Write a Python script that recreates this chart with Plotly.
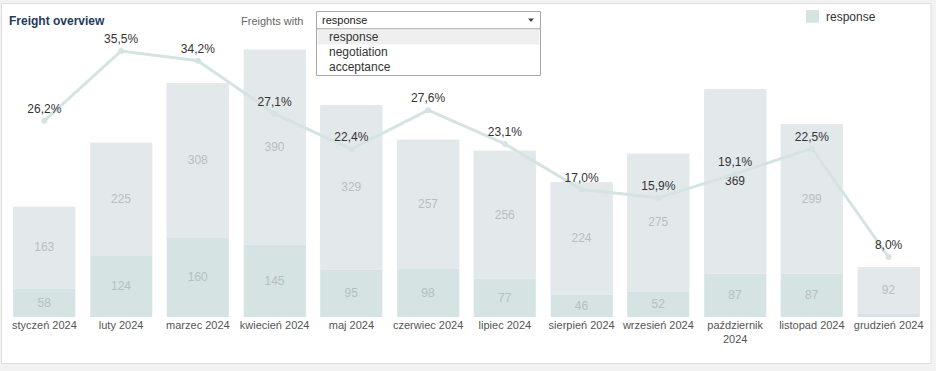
import plotly.graph_objects as go

# ---- data ----
months = ["styczeń 2024", "luty 2024", "marzec 2024", "kwiecień 2024", "maj 2024",
          "czerwiec 2024", "lipiec 2024", "sierpień 2024", "wrzesień 2024",
          "październik<br>2024", "listopad 2024", "grudzień 2024"]
response = [58, 124, 160, 145, 95, 98, 77, 46, 52, 87, 87, 8]
other = [163, 225, 308, 390, 329, 257, 256, 224, 275, 369, 299, 92]
response_pct = [26.2, 35.5, 34.2, 27.1, 22.4, 27.6, 23.1, 17.0, 15.9, 19.1, 22.5, 8.0]
dropdown_options = ["response", "negotiation", "acceptance"]
selected_option = "response"

# ---- styling ----
FONT = "Liberation Sans, Arial, sans-serif"
TEAL = "#d5e3e3"
GRAY = "#e3e8eb"
BLUR = "#b9bec1"
W, H = 936, 371
ML, MR, MT, MB = 6, 9, 27, 54
PW, PH = W - ML - MR, H - MT - MB


def px(x):
    return (x - ML) / PW


def py(y):
    return (H - MB - y) / PH


other_colors = ["#333333" if m.startswith("październik") else BLUR for m in months]

fig = go.Figure()
fig.add_trace(go.Bar(
    x=months, y=response, name="response", marker_color=TEAL,
    text=response, textposition="inside", insidetextanchor="middle",
    textangle=0, textfont=dict(color=BLUR, size=12, family=FONT),
    hoverinfo="x+y", showlegend=False))
fig.add_trace(go.Bar(
    x=months, y=other, name="other", marker_color=GRAY,
    text=other, textposition="inside", insidetextanchor="middle",
    textangle=0, textfont=dict(color=other_colors, size=12, family=FONT),
    hoverinfo="x+y", showlegend=False))
fig.add_trace(go.Scatter(
    x=months, y=response_pct, yaxis="y2", mode="lines+markers+text",
    line=dict(color=TEAL, width=3), marker=dict(color=TEAL, size=6),
    text=[f"{v:.1f}%".replace(".", ",") for v in response_pct],
    textposition="top center", textfont=dict(color="#333333", size=12, family=FONT),
    cliponaxis=False, showlegend=False))

shapes = [
    # panel
    dict(type="rect", xref="paper", yref="paper", layer="below",
         x0=px(1.5), x1=px(931), y0=py(363.5), y1=py(3.5),
         fillcolor="white", line=dict(color="#dedede", width=1)),
    # dropdown header
    dict(type="rect", xref="paper", yref="paper", layer="above",
         x0=px(316.5), x1=px(540.5), y0=py(29), y1=py(11.5),
         fillcolor="white", line=dict(color="#a8a8a8", width=1)),
    # dropdown list
    dict(type="rect", xref="paper", yref="paper", layer="above",
         x0=px(316.5), x1=px(540.5), y0=py(75.5), y1=py(29),
         fillcolor="white", line=dict(color="#a8a8a8", width=1)),
    # highlighted row
    dict(type="rect", xref="paper", yref="paper", layer="above",
         x0=px(317.5), x1=px(539.5), y0=py(44.5), y1=py(29.5),
         fillcolor="#efefef", line=dict(width=0)),
    # arrow
    dict(type="path", xref="paper", yref="paper", layer="above",
         path=f"M {px(528)},{py(18.5)} L {px(534)},{py(18.5)} L {px(531)},{py(22)} Z",
         fillcolor="#444444", line=dict(width=0)),
    # legend swatch
    dict(type="rect", xref="paper", yref="paper", layer="above",
         x0=px(806), x1=px(819), y0=py(22.7), y1=py(10),
         fillcolor=TEAL, line=dict(width=0)),
]

annotations = [
    dict(text="<b>Freight overview</b>", x=px(7), y=py(20.5), xref="paper", yref="paper",
         xanchor="left", yanchor="middle", showarrow=False,
         font=dict(size=12, color="#1f3a5c", family=FONT)),
    dict(text="Freights with", x=px(239), y=py(21), xref="paper", yref="paper",
         xanchor="left", yanchor="middle", showarrow=False,
         font=dict(size=11, color="#666666", family=FONT)),
    dict(text=selected_option, x=px(320), y=py(20), xref="paper", yref="paper",
         xanchor="left", yanchor="middle", showarrow=False,
         font=dict(size=11, color="#222222", family=FONT)),
    dict(text="response", x=px(824), y=py(17), xref="paper", yref="paper",
         xanchor="left", yanchor="middle", showarrow=False,
         font=dict(size=12, color="#333333", family=FONT)),
]
for i, opt in enumerate(dropdown_options):
    annotations.append(dict(text=opt, x=px(327), y=py(37 + 15 * i), xref="paper", yref="paper",
                            xanchor="left", yanchor="middle", showarrow=False,
                            font=dict(size=12, color="#333333", family=FONT)))

fig.update_layout(
    width=W, height=H, margin=dict(l=ML, r=MR, t=MT, b=MB, pad=0),
    paper_bgcolor="#f2f2f2", plot_bgcolor="rgba(0,0,0,0)",
    barmode="stack", bargap=0.192,
    font=dict(family=FONT),
    uniformtext=dict(minsize=11, mode="hide"),
    xaxis=dict(range=[-0.5, len(months) - 0.5], showgrid=False, zeroline=False,
               showline=False, ticks="",
               tickfont=dict(size=11, color="#555555", family=FONT), fixedrange=True),
    yaxis=dict(range=[0, 580], visible=False, fixedrange=True),
    yaxis2=dict(range=[0, 38.7], overlaying="y", side="right", visible=False, fixedrange=True),
    shapes=shapes, annotations=annotations,
    showlegend=False,
)

fig.write_html(
    "out.html",
    config={"displayModeBar": False},
    post_script="document.body.style.margin='0';document.body.style.overflow='hidden';",
)
